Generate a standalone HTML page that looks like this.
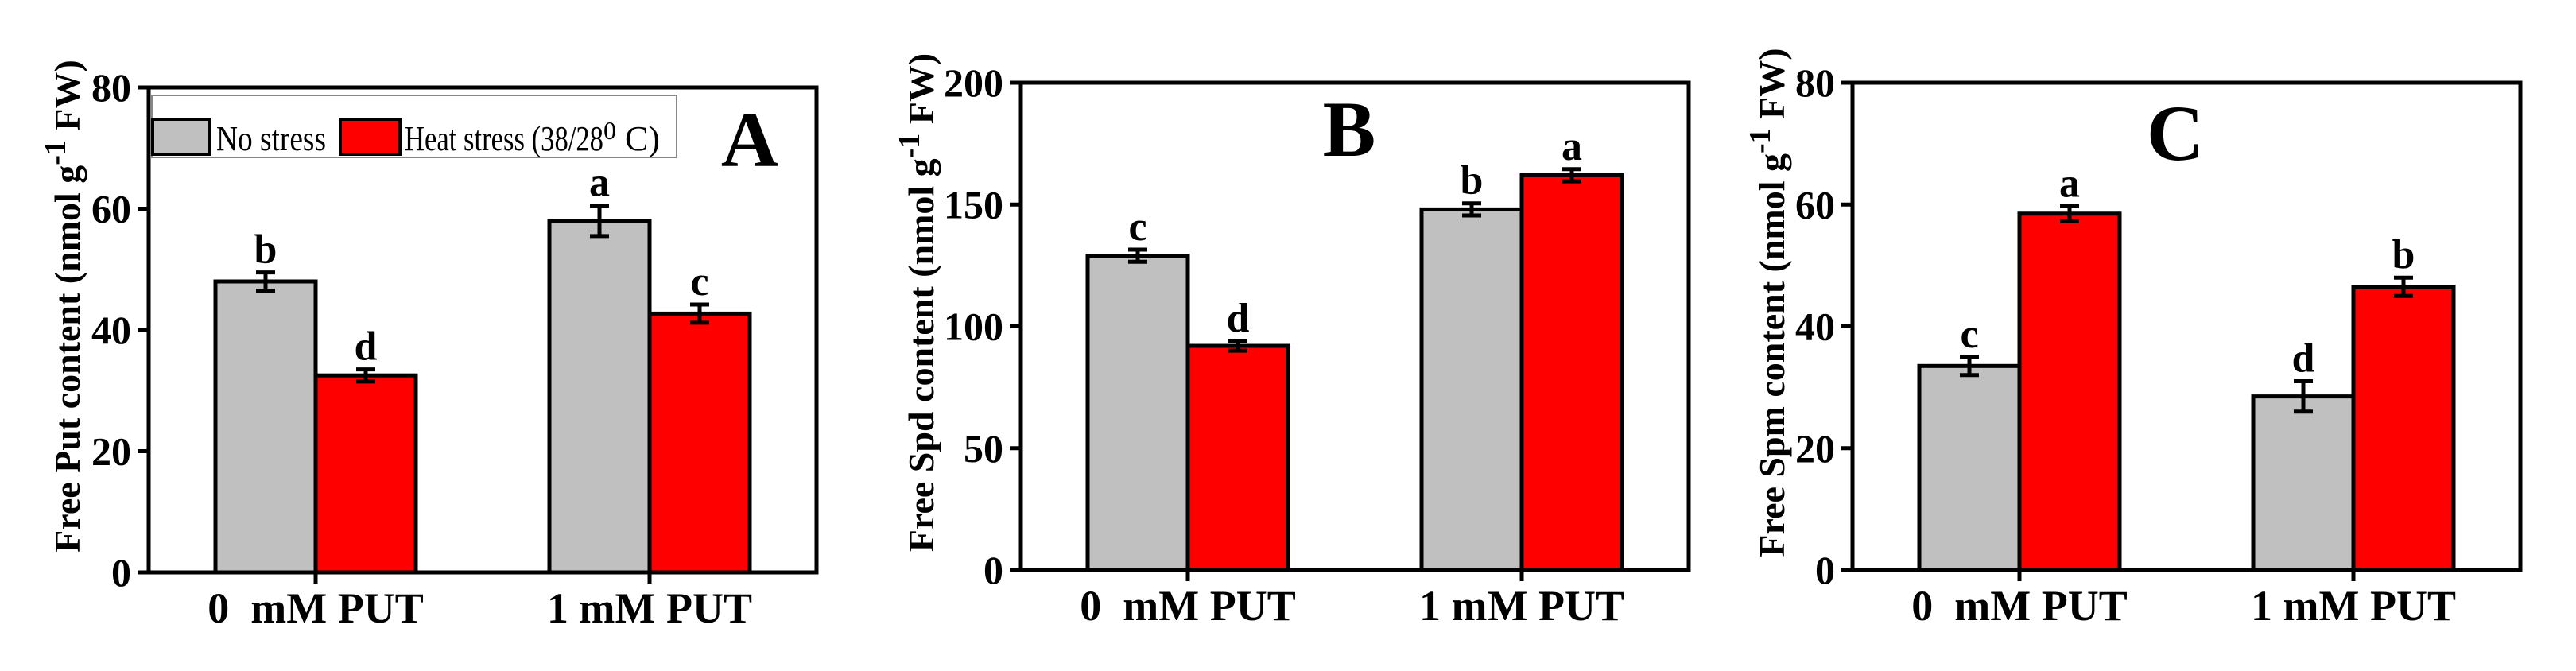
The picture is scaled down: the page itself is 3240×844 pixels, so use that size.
<!DOCTYPE html>
<html><head><meta charset="utf-8"><style>
html,body{margin:0;padding:0;background:#fff;}
svg{display:block;font-family:"Liberation Serif",serif;}
</style></head>
<body>
<svg id="fig" width="3240" height="844" viewBox="0 0 3240 844" xmlns="http://www.w3.org/2000/svg"></svg>
<script>
const categories = ["0\u00a0\u00a0mM PUT", "1 mM PUT"];
const seriesNames = ["No stress", "Heat stress"];
const putGray = [48, 58];
const putRed = [32.5, 42.7];
const putGrayErr = [1.5, 2.5];
const putRedErr = [1, 1.5];
const putLetters = [["b","a"],["d","c"]];
const spdGray = [129, 148];
const spdRed = [92, 162];
const spdGrayErr = [2.5, 2.5];
const spdRedErr = [2, 2.5];
const spdLetters = [["c","b"],["d","a"]];
const spmGray = [33.5, 28.5];
const spmRed = [58.5, 46.5];
const spmGrayErr = [1.5, 2.5];
const spmRedErr = [1.2, 1.5];
const spmLetters = [["c","d"],["a","b"]];
const putTicks = [0, 20, 40, 60, 80];
const spdTicks = [0, 50, 100, 150, 200];
const spmTicks = [0, 20, 40, 60, 80];

const NS = "http://www.w3.org/2000/svg";
const svg = document.getElementById("fig");
function mk(tag, attrs, parent) {
  const e = document.createElementNS(NS, tag);
  for (const k in attrs) e.setAttribute(k, attrs[k]);
  (parent || svg).appendChild(e);
  return e;
}

const panels = [
  {id:"a", L:187, T:110, W:840, B:720, max:80, ticks:putTicks, g:putGray, r:putRed, ge:putGrayErr, re:putRedErr, letters:putLetters,
   title:"Free Put content (nmol g", tx:86, letter:"A", lx:943, ly:209},
  {id:"b", L:1284, T:104, W:840, B:717, max:200, ticks:spdTicks, g:spdGray, r:spdRed, ge:spdGrayErr, re:spdRedErr, letters:spdLetters,
   title:"Free Spd content (nmol g", tx:1160, letter:"B", lx:1697, ly:196},
  {id:"c", L:2330, T:104, W:840, B:717, max:80, ticks:spmTicks, g:spmGray, r:spmRed, ge:spmGrayErr, re:spmRedErr, letters:spmLetters,
   title:"Free Spm content (nmol g", tx:2230, letter:"C", lx:2736, ly:201}
];

panels.forEach(p => {
  const grp = mk("g", {});
  
  
  const y = v => p.B - v / p.max * (p.B - p.T);
  const x = f => p.L + f * p.W;
  const fr = mk("rect", {x:p.L, y:p.T, width:p.W, height:p.B-p.T, fill:"none", stroke:"#000", "stroke-width":5}, grp);
  
  
  p.ticks.forEach(t => {
    const tl = mk("line", {x1:p.L-14, x2:p.L, y1:y(t), y2:y(t), stroke:"#000", "stroke-width":5}, grp);
    
    
    const tt = mk("text", {x:p.L-22, y:y(t)+17, "text-anchor":"end", "font-size":50, "font-weight":"bold"}, grp);
    tt.textContent = t;
    
    
  });
  const yt = mk("text", {transform:`translate(${p.tx+14},${(p.T+p.B)/2 - 30}) rotate(-90)`, "text-anchor":"middle", "font-size":46, "font-weight":"bold"}, grp);
  
  
  yt.appendChild(document.createTextNode(p.title));
  const sup = mk("tspan", {dy:-18, "font-size":38}, yt); sup.textContent = "-1";
  const rest = mk("tspan", {dy:18}, yt); rest.textContent = " FW)";
  const centers = [0.25, 0.75];
  categories.forEach((c, i) => {
    const cx = x(centers[i]);
    const xt = mk("line", {x1:cx, x2:cx, y1:p.B, y2:p.B+14, stroke:"#000", "stroke-width":5}, grp);
    
    
    const xl = mk("text", {x:cx, y:p.B+63, "text-anchor":"middle", "font-size":54, "font-weight":"bold"}, grp);
    xl.textContent = c;
    
    
    [[p.g, p.ge, "#c0c0c0", -1, 0], [p.r, p.re, "#ff0000", 0, 1]].forEach(([vals, errs, col, o, si]) => {
      const bx = cx + o * 0.15 * p.W;
      const v = vals[i];
      const rect = mk("rect", {x:bx, y:y(v), width:0.15*p.W, height:p.B - y(v), fill:col, stroke:"#000", "stroke-width":5}, grp);
      
      
      const ex = bx + 0.075 * p.W;
      const e = errs[i];
      const eg = mk("g", {stroke:"#000", "stroke-width":5}, grp);
      
      
      mk("line", {x1:ex, x2:ex, y1:y(v+e), y2:y(v-e)}, eg);
      mk("line", {x1:ex-12, x2:ex+12, y1:y(v+e), y2:y(v+e)}, eg);
      mk("line", {x1:ex-12, x2:ex+12, y1:y(v-e), y2:y(v-e)}, eg);
      const lt = mk("text", {x:ex, y:y(v+e)-12, "text-anchor":"middle", "font-size":52, "font-weight":"bold"}, grp);
      lt.textContent = p.letters[si][i];
      
      
    });
  });
  const pl = mk("text", {x:p.lx, y:p.ly, "text-anchor":"middle", "font-size":100, "font-weight":"bold"}, grp);
  pl.textContent = p.letter;
  
  
});

const lg = mk("g", {});


mk("rect", {x:191, y:120, width:660, height:78, fill:"#fff", stroke:"#888", "stroke-width":2}, lg);
const s1 = mk("rect", {x:192, y:150, width:71, height:44, fill:"#c0c0c0", stroke:"#000", "stroke-width":4}, lg);


const t1 = mk("text", {x:272, y:189, "font-size":44, textLength:138, lengthAdjust:"spacingAndGlyphs"}, lg);
t1.textContent = "No stress";


const s2 = mk("rect", {x:428, y:150, width:75, height:44, fill:"#ff0000", stroke:"#000", "stroke-width":4}, lg);


const t2 = mk("text", {x:509, y:189, "font-size":44}, lg);


const a = mk("tspan", {textLength:250, lengthAdjust:"spacingAndGlyphs"}, t2); a.textContent = "Heat stress (38/28";
const b = mk("tspan", {dy:-14, "font-size":32}, t2); b.textContent = "0";
const c = mk("tspan", {dy:14}, t2); c.textContent = " C)";
</script>
</body></html>
